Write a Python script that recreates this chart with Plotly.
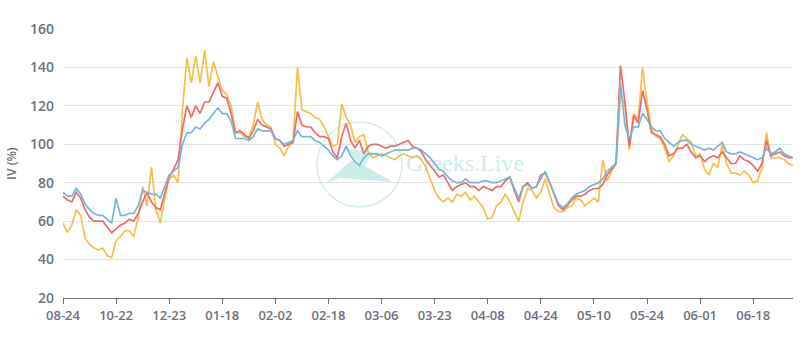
import plotly.graph_objects as go

tick_labels = ["08-24", "10-22", "12-23", "01-18", "02-02", "02-18", "03-06",
               "03-23", "04-08", "04-24", "05-10", "05-24", "06-01", "06-18"]
tick_step = 12

iv_short = [59, 54, 58, 66, 63, 51, 48, 46, 45, 46, 42, 41, 50,
            52, 55, 55, 52, 62, 78, 68, 88, 66, 59, 72, 82,
            84, 80, 118, 145, 132, 146, 132, 149, 130, 143, 135, 128,
            126, 120, 106, 106, 104, 104, 110, 122, 113, 110, 109, 100,
            98, 94, 99, 101, 140, 118, 117, 116, 114, 113, 109, 104, 99, 100, 121, 114, 110, 101, 104, 105,
            96, 93, 94, 95, 94, 93, 92, 94, 95, 94, 93,
            94, 92, 88, 82, 76, 72, 70, 72, 70, 74, 73, 75, 71, 73, 70, 67, 61, 62, 68, 70, 74, 70, 65, 60,
            70, 77, 76, 72, 75, 82, 74, 67, 65, 65, 67, 68, 72, 71, 68, 70, 72, 70, 92, 81, 86, 90,
            125, 121, 97, 116, 113, 140, 122, 108, 104, 103, 98, 91, 94, 100, 105, 103, 101, 94, 95, 87,
            84, 90, 88, 100, 90, 85, 85, 84, 86, 84, 80, 81, 88, 106, 93, 93, 93, 92, 90, 89]

iv_mid = [73, 71, 70, 75, 72, 66, 62, 60, 60, 60, 57, 54, 56,
          58, 59, 61, 60, 64, 70, 75, 70, 67, 66, 74, 83,
          87, 92, 108, 120, 114, 120, 116, 122, 122, 127, 132, 125,
          124, 116, 106, 107, 105, 103, 107, 113, 110, 109, 108, 103,
          102, 99, 100, 101, 117, 110, 109, 109, 106, 104, 104, 103, 96, 93, 104, 111, 102, 98, 102, 95,
          99, 100, 100, 99, 98, 99, 99, 100, 101, 102, 99,
          98, 96, 92, 89, 86, 83, 84, 80, 76, 78, 79, 80, 78, 78, 76, 78, 77, 76, 78, 78, 81, 83, 76, 70,
          78, 80, 77, 78, 84, 85, 80, 74, 68, 66, 68, 71, 73, 73, 74, 76, 77, 77, 79, 84, 87, 90,
          141, 122, 99, 115, 111, 128, 118, 106, 105, 104, 100, 94, 95, 98, 98, 100, 96, 93, 94, 91,
          93, 94, 93, 96, 93, 90, 90, 94, 92, 91, 89, 86, 90, 102, 94, 95, 96, 94, 93, 93]

iv_long = [75, 73, 73, 77, 74, 69, 66, 64, 63, 63, 61, 59, 72,
           63, 63, 64, 64, 68, 76, 75, 74, 74, 72, 78, 84,
           86, 88, 100, 106, 106, 109, 108, 111, 113, 116, 119, 116,
           116, 112, 103, 103, 103, 102, 104, 108, 107, 107, 107, 103,
           102, 100, 101, 102, 107, 104, 104, 104, 102, 101, 99, 97, 94, 92, 94, 99, 94, 91, 89, 93,
           95, 95, 95, 94, 95, 96, 97, 97, 97, 97, 98,
           98, 97, 95, 93, 90, 87, 86, 83, 81, 80, 80, 82, 80, 80, 80, 81, 81, 80, 80, 81, 82, 83, 77, 72,
           78, 79, 77, 78, 82, 86, 80, 74, 69, 67, 69, 72, 74, 75, 76, 78, 79, 80, 82, 86, 88, 90,
           132, 110, 103, 109, 109, 116, 113, 109, 107, 107, 103, 101, 99, 101, 102, 102, 100, 99, 98, 97,
           98, 97, 99, 101, 96, 95, 95, 96, 95, 94, 93, 92, 93, 98, 95, 96, 98, 95, 94, 93]

series_names = ["1 Week", "1 Month", "3 Month"]
series_colors = ["#f5c04a", "#ee6b6b", "#72b8d6"]
series_values = [iv_short, iv_mid, iv_long]

L, R, T, B = 63, 11, 29, 55
W, H = 804, 353
PW, PH = W - L - R, H - T - B

def px(x):
    return (x - L) / PW

def py(y):
    return (H - B - y) / PH

fig = go.Figure()
n = len(iv_short)
xs = list(range(n))
for name, color, vals in zip(series_names, series_colors, series_values):
    fig.add_trace(go.Scatter(x=xs, y=vals, name=name, mode="lines",
                             line=dict(color=color, width=1.7)))

tick_vals = [i * tick_step for i in range(len(tick_labels))]
label_font = dict(family="Open Sans", size=14, color="#6e7079", weight=600)

fig.update_layout(
    width=W, height=H,
    margin=dict(l=L, r=R, t=T, b=B, autoexpand=False),
    paper_bgcolor="white", plot_bgcolor="white",
    showlegend=True,
    legend=dict(orientation="h", x=0.5, xanchor="center", y=py(344), yanchor="top",
                font=dict(family="Open Sans", size=12, color="#333"), itemwidth=30),
    xaxis=dict(range=[0, n - 1], tickmode="array", tickvals=tick_vals, ticktext=tick_labels,
               showgrid=False, showline=True, linecolor="#6e7079", linewidth=1,
               ticks="outside", ticklen=5, tickcolor="#6e7079",
               tickfont=dict(family="Open Sans", size=13, color="#6e7079", weight=600),
               zeroline=False, fixedrange=True, automargin=False),
    yaxis=dict(range=[20, 160], tickvals=[20, 40, 60, 80, 100, 120, 140, 160],
               showgrid=True, gridcolor="#e3e3e3", gridwidth=1, showline=False,
               zeroline=False, tickfont=label_font, ticklabelstandoff=8,
               title=dict(text="IV (%)", font=dict(family="Open Sans", size=12, color="#6e7079", weight=600),
                          standoff=10),
               fixedrange=True, automargin=False),
)

# watermark (Greeks.Live logo)
fig.add_shape(type="circle", xref="paper", yref="paper",
              x0=px(317), x1=px(402), y0=py(207), y1=py(122),
              line=dict(color="rgba(120,200,200,0.35)", width=1.5), layer="above")
fig.add_shape(type="path", xref="paper", yref="paper",
              path=f"M {px(326)} {py(183)} L {px(352)} {py(160)} L {px(372)} {py(170)} L {px(393)} {py(182)} L {px(340)} {py(178)} Z",
              fillcolor="rgba(110,200,195,0.35)", line=dict(width=0), layer="above")
fig.add_shape(type="path", xref="paper", yref="paper",
              path=f"M {px(344)} {py(148)} L {px(372)} {py(152)} L {px(364)} {py(168)} Z",
              fillcolor="rgba(110,200,195,0.3)", line=dict(width=0), layer="above")
fig.add_annotation(text="Greeks.Live", xref="paper", yref="paper",
                   x=px(404), y=py(163), xanchor="left", yanchor="middle", showarrow=False,
                   font=dict(family="Liberation Serif", size=24, color="rgba(110,195,195,0.35)"))

fig.write_html("out.html")
